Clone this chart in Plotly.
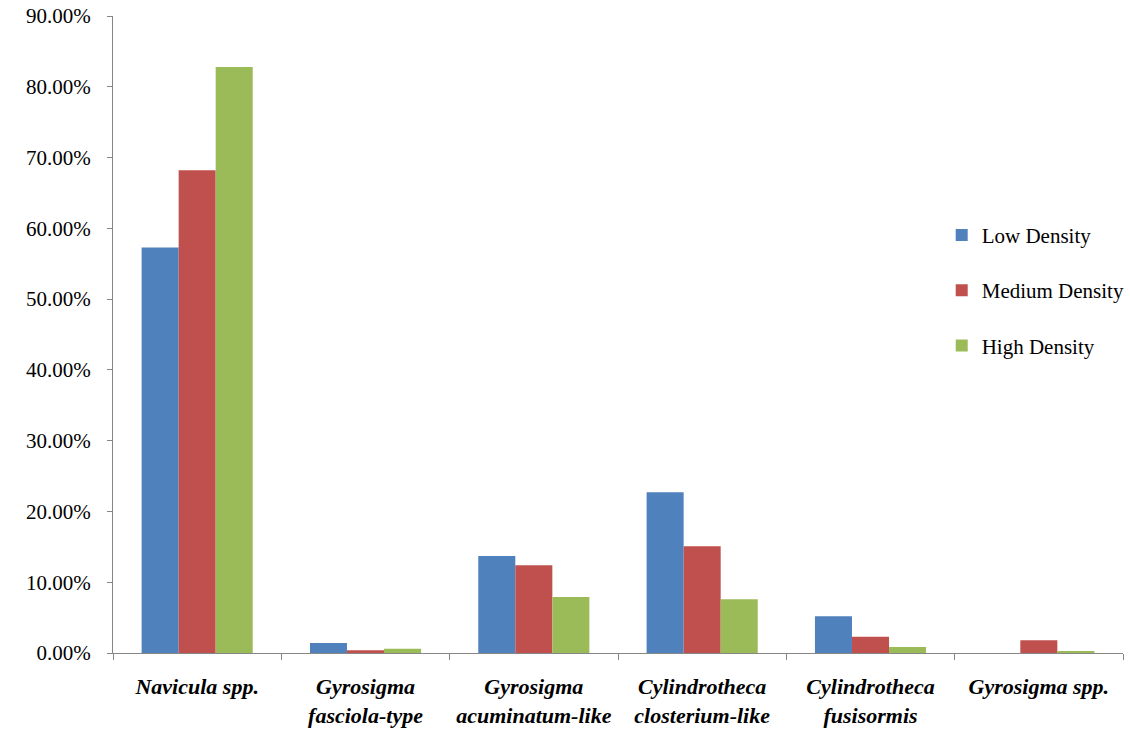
import plotly.graph_objects as go

categories = ["Navicula spp.", "Gyrosigma<br>fasciola-type", "Gyrosigma<br>acuminatum-like",
              "Cylindrotheca<br>closterium-like", "Cylindrotheca<br>fusisormis", "Gyrosigma spp."]
low = [0.573, 0.014, 0.137, 0.227, 0.052, 0.0]
medium = [0.682, 0.004, 0.124, 0.151, 0.023, 0.018]
high = [0.828, 0.006, 0.079, 0.076, 0.0085, 0.003]
series_names = ["Low Density", "Medium Density", "High Density"]
colors = ["#4F81BD", "#C0504D", "#9BBB59"]

fig = go.Figure()
for name, vals, col in zip(series_names, [low, medium, high], colors):
    fig.add_trace(go.Bar(x=categories, y=vals, name=name, marker_color=col,
                         marker_line_width=0, legendgroup=name))

font_family = "Liberation Serif"
fig.update_layout(
    width=1130, height=730,
    margin=dict(l=113, r=7, t=16, b=77, autoexpand=False),
    paper_bgcolor="white", plot_bgcolor="white",
    barmode="group", bargap=0.34, bargroupgap=0,
    font=dict(family=font_family, size=21, color="black"),
    legend=dict(x=0.8205, y=0.688, xanchor="left", yanchor="top",
                font=dict(family=font_family, size=21, color="black"),
                traceorder="grouped", tracegroupgap=25, bgcolor="rgba(0,0,0,0)"),
    showlegend=True,
)
fig.update_yaxes(range=[0, 0.9], dtick=0.1, tickformat=".2%", showgrid=False,
                 showline=True, linecolor="#868686", linewidth=1, automargin=False,
                 ticks="outside", ticklen=5, tickcolor="#868686", ticklabelstandoff=12,
                 tickfont=dict(family=font_family, size=21, color="black"), zeroline=False)
fig.update_xaxes(showline=True, linecolor="#868686", linewidth=1, showgrid=False,
                 ticks="outside", ticklen=6, tickcolor="#868686", tickson="boundaries",
                 ticklabelstandoff=14, automargin=False,
                 tickfont=dict(family=font_family, size=22, color="black",
                               style="italic", weight="bold"))

fig.write_html("out.html")
